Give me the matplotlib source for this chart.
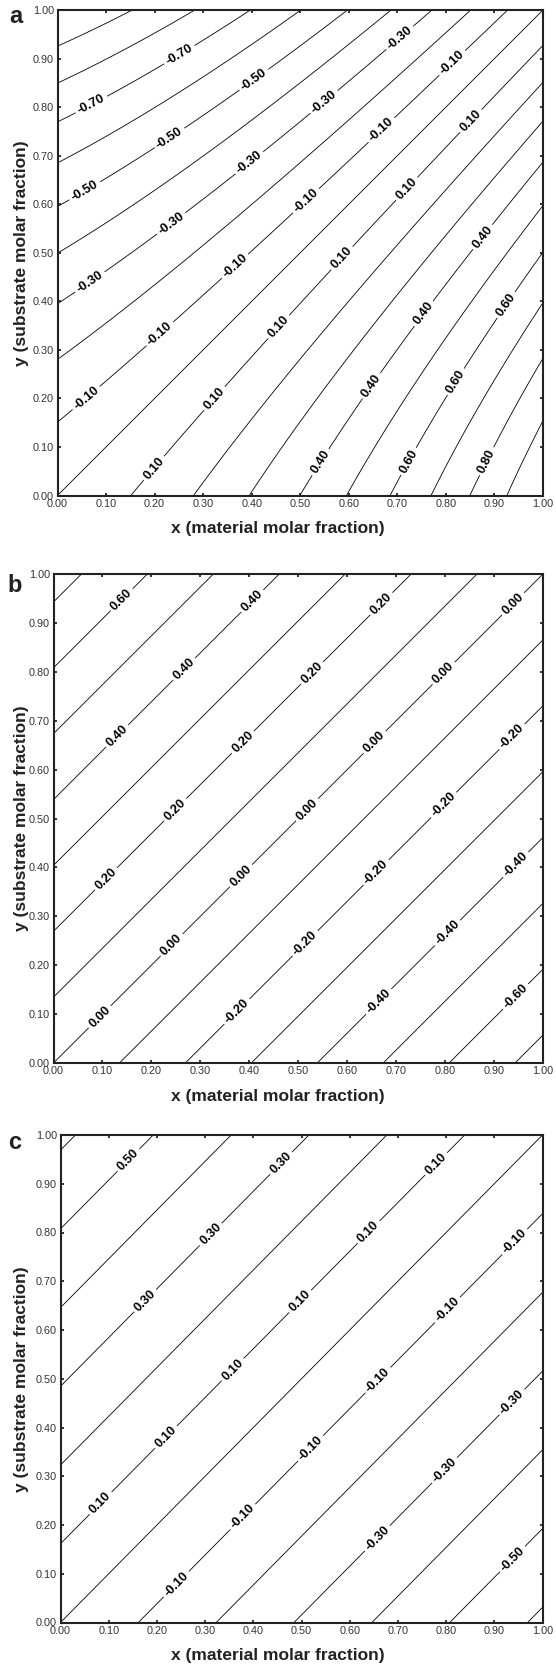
import numpy as np
import matplotlib
matplotlib.use("Agg")
import matplotlib.pyplot as plt

plt.rcParams['font.family'] = ['Liberation Sans', 'DejaVu Sans']
plt.rcParams['contour.negative_linestyle'] = 'solid'

# ---------------- data ----------------
# Each field is f(x, y) = g(x) - g(y); g is fitted to where the contour
# levels meet the plot edge (distance from the origin along an edge).

# Panel a
levels_a = [-0.9, -0.8, -0.7, -0.6, -0.5, -0.4, -0.3, -0.2, -0.1, 0.0,
            0.1, 0.2, 0.3, 0.4, 0.5, 0.6, 0.7, 0.8, 0.9]
edge_levels_a = [0.0, 0.1, 0.2, 0.3, 0.4, 0.5, 0.6, 0.7, 0.8, 0.9]
edge_pos_a = [0.0, 0.1515, 0.2805, 0.3955, 0.500, 0.5945, 0.6845, 0.7685, 0.850, 0.926]
label_levels_a = [-0.7, -0.5, -0.3, -0.1, 0.1, 0.4, 0.6, 0.8]

# Panel b
levels_b = [-0.7, -0.6, -0.5, -0.4, -0.3, -0.2, -0.1, 0.0,
            0.1, 0.2, 0.3, 0.4, 0.5, 0.6, 0.7]
edge_levels_b = [0.0, -0.1, -0.2, -0.3, -0.4, -0.5, -0.6, -0.7]
edge_pos_b = [0.0, 0.1365, 0.270, 0.4025, 0.5375, 0.674, 0.808, 0.9435]
label_levels_b = [-0.6, -0.4, -0.2, 0.0, 0.2, 0.4, 0.6]

# Panel c
levels_c = [-0.6, -0.5, -0.4, -0.3, -0.2, -0.1, 0.0, 0.1, 0.2, 0.3, 0.4, 0.5, 0.6]
edge_levels_c = [0.0, -0.1, -0.2, -0.3, -0.4, -0.5, -0.6]
edge_pos_c = [0.0, 0.1625, 0.3225, 0.485, 0.6445, 0.8085, 0.969]
label_levels_c = [-0.5, -0.3, -0.1, 0.1, 0.3, 0.5]

tick_values = [0.0, 0.1, 0.2, 0.3, 0.4, 0.5, 0.6, 0.7, 0.8, 0.9, 1.0]
panel_letters = ['a', 'b', 'c']
xlabel_text = 'x (material molar fraction)'
ylabel_text = 'y (substrate molar fraction)'

# ---------------- label placement (layout) ----------------
label_pos_a = [(0.249, 0.911), (0.070, 0.805),
               (0.407, 0.853), (0.231, 0.736), (0.059, 0.623),
               (0.703, 0.945), (0.549, 0.811), (0.396, 0.684), (0.234, 0.561), (0.066, 0.441),
               (0.817, 0.887), (0.667, 0.753), (0.513, 0.606), (0.366, 0.472), (0.209, 0.335), (0.059, 0.201),
               (0.853, 0.770), (0.718, 0.633), (0.586, 0.489), (0.458, 0.345), (0.322, 0.201), (0.198, 0.057),
               (0.879, 0.530), (0.758, 0.372), (0.648, 0.225), (0.538, 0.071),
               (0.923, 0.393), (0.824, 0.232), (0.722, 0.071),
               (0.883, 0.071)]
label_pos_b = [(0.142, 0.945),
               (0.406, 0.945), (0.272, 0.800), (0.131, 0.668),
               (0.671, 0.938), (0.530, 0.796), (0.388, 0.655), (0.250, 0.517), (0.109, 0.375),
               (0.940, 0.938), (0.798, 0.796), (0.657, 0.655), (0.519, 0.517), (0.381, 0.385),
               (0.236, 0.247), (0.094, 0.095),
               (0.936, 0.668), (0.798, 0.527), (0.660, 0.389), (0.515, 0.244), (0.374, 0.106),
               (0.940, 0.410), (0.806, 0.265), (0.664, 0.126),
               (0.943, 0.137)]
label_pos_c = [(0.149, 0.941),
               (0.459, 0.941), (0.319, 0.789), (0.179, 0.657),
               (0.779, 0.941), (0.639, 0.801), (0.499, 0.657), (0.359, 0.517), (0.219, 0.380), (0.080, 0.248),
               (0.937, 0.786), (0.801, 0.643), (0.658, 0.498), (0.518, 0.358), (0.378, 0.217), (0.238, 0.081),
               (0.937, 0.452), (0.797, 0.312), (0.658, 0.172),
               (0.941, 0.127)]

W, H = 556, 1668
fig = plt.figure(figsize=(W / 100, H / 100), dpi=100)

# axes boxes in pixels: left, right, top, bottom
boxes = [(57.5, 543.0, 10.0, 495.5),
         (53.5, 543.0, 574.0, 1063.0),
         (60.5, 542.5, 1135.0, 1622.5)]
letter_pos = [(9, 23), (7, 592), (8, 1149)]


def fit_g(pos, lev, degree):
    pos = np.asarray(pos, float)
    lev = np.asarray(lev, float)
    A = np.column_stack([pos ** k for k in range(1, degree + 1)])
    coef, *_ = np.linalg.lstsq(A, lev, rcond=None)
    return lambda t: sum(c * t ** (k + 1) for k, c in enumerate(coef))


panels = [
    (levels_a, edge_pos_a, edge_levels_a, label_levels_a, label_pos_a, 2),
    (levels_b, edge_pos_b, edge_levels_b, label_levels_b, label_pos_b, 1),
    (levels_c, edge_pos_c, edge_levels_c, label_levels_c, label_pos_c, 1),
]

grid = np.linspace(0, 1, 501)
X, Y = np.meshgrid(grid, grid)

for i, (levels, epos, elev, llev, lpos, deg) in enumerate(panels):
    l, r, t, b = boxes[i]
    ax = fig.add_axes([l / W, 1 - b / H, (r - l) / W, (b - t) / H])
    g = fit_g(epos, elev, deg)
    Z = g(X) - g(Y)
    plain = [v for v in levels if not np.any(np.isclose(v, llev))]
    ax.contour(X, Y, Z, levels=plain, colors='black', linewidths=0.6,
               linestyles='solid')
    cs = ax.contour(X, Y, Z, levels=sorted(llev), colors='black', linewidths=0.6,
                    linestyles='solid')
    ax.clabel(cs, manual=lpos, inline=True, inline_spacing=3,
              fmt='%.2f', fontsize=9.3, colors='black')
    for txt in cs.labelTexts:
        txt.set_fontweight('bold')
    ax.set_xlim(0, 1)
    ax.set_ylim(0, 1)
    ax.set_xticks(tick_values)
    ax.set_yticks(tick_values)
    ax.set_xticklabels(['%.2f' % v for v in tick_values])
    ax.set_yticklabels(['%.2f' % v for v in tick_values])
    ax.tick_params(direction='in', top=True, right=True, length=2.5, width=1.1,
                   labelsize=7.8, labelcolor='#333333', pad=2.5)
    for sp in ax.spines.values():
        sp.set_linewidth(1.5)
        sp.set_color('#222222')
    fig.text(278 / W, 1 - (b + 33) / H, xlabel_text, ha='center', va='center',
             fontsize=12.5, fontweight='bold', color='#222222')
    fig.text(22 / W, 1 - ((t + b) / 2) / H, ylabel_text, ha='center', va='center',
             rotation=90, fontsize=12.5, fontweight='bold', color='#222222')
    lx, ly = letter_pos[i]
    fig.text(lx / W, 1 - ly / H, panel_letters[i], ha='left', va='baseline',
             fontsize=17, fontweight='bold', color='#222222')

fig.savefig('out.png', dpi=100)
